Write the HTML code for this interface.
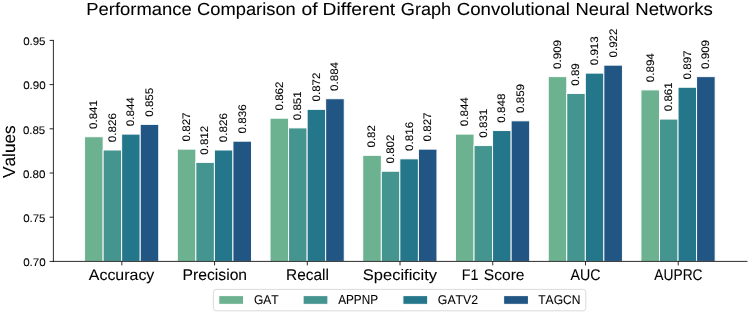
<!DOCTYPE html>
<html><head><meta charset="utf-8"><style>
html,body{margin:0;padding:0;background:#fff;width:750px;height:315px;overflow:hidden}
svg{display:block;will-change:transform}
text{stroke:#000;stroke-width:0.08px;font-family:"Liberation Sans",sans-serif;fill:#000;font-kerning:none;text-rendering:geometricPrecision}
</style></head><body>
<svg width="750" height="315" viewBox="0 0 750 315">
<rect width="750" height="315" fill="#fff"/>
<rect x="84.578" y="136.756" width="18.546" height="124.644" fill="#6db290" stroke="#fff" stroke-width="0.95"/>
<rect x="177.308" y="149.132" width="18.546" height="112.268" fill="#6db290" stroke="#fff" stroke-width="0.95"/>
<rect x="270.038" y="118.192" width="18.546" height="143.208" fill="#6db290" stroke="#fff" stroke-width="0.95"/>
<rect x="362.768" y="155.320" width="18.546" height="106.080" fill="#6db290" stroke="#fff" stroke-width="0.95"/>
<rect x="455.498" y="134.104" width="18.546" height="127.296" fill="#6db290" stroke="#fff" stroke-width="0.95"/>
<rect x="548.228" y="76.644" width="18.546" height="184.756" fill="#6db290" stroke="#fff" stroke-width="0.95"/>
<rect x="640.958" y="89.904" width="18.546" height="171.496" fill="#6db290" stroke="#fff" stroke-width="0.95"/>
<rect x="103.124" y="150.016" width="18.546" height="111.384" fill="#44948f" stroke="#fff" stroke-width="0.95"/>
<rect x="195.854" y="162.392" width="18.546" height="99.008" fill="#44948f" stroke="#fff" stroke-width="0.95"/>
<rect x="288.584" y="127.916" width="18.546" height="133.484" fill="#44948f" stroke="#fff" stroke-width="0.95"/>
<rect x="381.314" y="171.232" width="18.546" height="90.168" fill="#44948f" stroke="#fff" stroke-width="0.95"/>
<rect x="474.044" y="145.596" width="18.546" height="115.804" fill="#44948f" stroke="#fff" stroke-width="0.95"/>
<rect x="566.774" y="93.440" width="18.546" height="167.960" fill="#44948f" stroke="#fff" stroke-width="0.95"/>
<rect x="659.504" y="119.076" width="18.546" height="142.324" fill="#44948f" stroke="#fff" stroke-width="0.95"/>
<rect x="121.670" y="134.104" width="18.546" height="127.296" fill="#24768b" stroke="#fff" stroke-width="0.95"/>
<rect x="214.400" y="150.016" width="18.546" height="111.384" fill="#24768b" stroke="#fff" stroke-width="0.95"/>
<rect x="307.130" y="109.352" width="18.546" height="152.048" fill="#24768b" stroke="#fff" stroke-width="0.95"/>
<rect x="399.860" y="158.856" width="18.546" height="102.544" fill="#24768b" stroke="#fff" stroke-width="0.95"/>
<rect x="492.590" y="130.568" width="18.546" height="130.832" fill="#24768b" stroke="#fff" stroke-width="0.95"/>
<rect x="585.320" y="73.108" width="18.546" height="188.292" fill="#24768b" stroke="#fff" stroke-width="0.95"/>
<rect x="678.050" y="87.252" width="18.546" height="174.148" fill="#24768b" stroke="#fff" stroke-width="0.95"/>
<rect x="140.216" y="124.380" width="18.546" height="137.020" fill="#215584" stroke="#fff" stroke-width="0.95"/>
<rect x="232.946" y="141.176" width="18.546" height="120.224" fill="#215584" stroke="#fff" stroke-width="0.95"/>
<rect x="325.676" y="98.744" width="18.546" height="162.656" fill="#215584" stroke="#fff" stroke-width="0.95"/>
<rect x="418.406" y="149.132" width="18.546" height="112.268" fill="#215584" stroke="#fff" stroke-width="0.95"/>
<rect x="511.136" y="120.844" width="18.546" height="140.556" fill="#215584" stroke="#fff" stroke-width="0.95"/>
<rect x="603.866" y="65.152" width="18.546" height="196.248" fill="#215584" stroke="#fff" stroke-width="0.95"/>
<rect x="696.596" y="76.644" width="18.546" height="184.756" fill="#215584" stroke="#fff" stroke-width="0.95"/>
<path d="M53.40 40.40V261.40M53.40 261.40H747.00" stroke="#000" stroke-width="0.83" fill="none" stroke-linecap="square"/>
<path d="M49.55 261.40H53.40M49.55 217.20H53.40M49.55 173.00H53.40M49.55 128.80H53.40M49.55 84.60H53.40M49.55 40.40H53.40M121.84 261.40V265.40M214.57 261.40V265.40M307.30 261.40V265.40M400.03 261.40V265.40M492.76 261.40V265.40M585.49 261.40V265.40M678.22 261.40V265.40" stroke="#000" stroke-width="0.83" fill="none"/>
<text transform="translate(86.289,15.159) scale(1.0518,1)" font-size="17.515">Performance</text>
<text transform="translate(197.059,15.159) scale(1.0459,1)" font-size="17.515">Comparison</text>
<text transform="translate(301.386,15.159) scale(1.1035,1)" font-size="17.515">of</text>
<text transform="translate(322.516,15.159) scale(1.0991,1)" font-size="17.515">Different</text>
<text transform="translate(400.795,15.159) scale(1.0366,1)" font-size="17.515">Graph</text>
<text transform="translate(456.718,15.159) scale(1.0666,1)" font-size="17.515">Convolutional</text>
<text transform="translate(575.591,15.159) scale(1.0484,1)" font-size="17.515">Neural</text>
<text transform="translate(635.358,15.159) scale(1.0603,1)" font-size="17.515">Networks</text>
<text transform="translate(15.130,178.026) rotate(-90) scale(0.9907,1)" font-size="17.430">Values</text>
<text transform="translate(97.043,128.949) rotate(-90) scale(1.0499,1)" font-size="10.946">0.841</text>
<text transform="translate(189.793,141.453) rotate(-90) scale(1.0600,1)" font-size="10.946">0.827</text>
<text transform="translate(282.543,110.449) rotate(-90) scale(1.0506,1)" font-size="10.946">0.862</text>
<text transform="translate(375.293,147.447) rotate(-90) scale(1.0454,1)" font-size="10.946">0.82</text>
<text transform="translate(468.043,126.203) rotate(-90) scale(1.0603,1)" font-size="10.946">0.844</text>
<text transform="translate(560.793,68.953) rotate(-90) scale(1.0588,1)" font-size="10.946">0.909</text>
<text transform="translate(653.543,82.203) rotate(-90) scale(1.0603,1)" font-size="10.946">0.894</text>
<text transform="translate(115.543,142.206) rotate(-90) scale(1.0667,1)" font-size="10.946">0.826</text>
<text transform="translate(208.293,154.699) rotate(-90) scale(1.0506,1)" font-size="10.946">0.812</text>
<text transform="translate(301.043,120.199) rotate(-90) scale(1.0499,1)" font-size="10.946">0.851</text>
<text transform="translate(393.793,163.449) rotate(-90) scale(1.0506,1)" font-size="10.946">0.802</text>
<text transform="translate(486.543,137.703) rotate(-90) scale(1.0594,1)" font-size="10.946">0.831</text>
<text transform="translate(579.293,85.702) rotate(-90) scale(1.0561,1)" font-size="10.946">0.89</text>
<text transform="translate(672.043,111.199) rotate(-90) scale(1.0499,1)" font-size="10.946">0.861</text>
<text transform="translate(134.293,126.203) rotate(-90) scale(1.0603,1)" font-size="10.946">0.844</text>
<text transform="translate(227.043,142.206) rotate(-90) scale(1.0667,1)" font-size="10.946">0.826</text>
<text transform="translate(319.793,101.449) rotate(-90) scale(1.0506,1)" font-size="10.946">0.872</text>
<text transform="translate(412.543,150.956) rotate(-90) scale(1.0667,1)" font-size="10.946">0.816</text>
<text transform="translate(505.293,122.706) rotate(-90) scale(1.0665,1)" font-size="10.946">0.848</text>
<text transform="translate(598.043,65.202) rotate(-90) scale(1.0573,1)" font-size="10.946">0.913</text>
<text transform="translate(690.793,79.453) rotate(-90) scale(1.0600,1)" font-size="10.946">0.897</text>
<text transform="translate(152.793,116.702) rotate(-90) scale(1.0564,1)" font-size="10.946">0.855</text>
<text transform="translate(245.543,133.456) rotate(-90) scale(1.0667,1)" font-size="10.946">0.836</text>
<text transform="translate(338.293,90.953) rotate(-90) scale(1.0603,1)" font-size="10.946">0.884</text>
<text transform="translate(431.043,141.453) rotate(-90) scale(1.0600,1)" font-size="10.946">0.827</text>
<text transform="translate(523.793,112.953) rotate(-90) scale(1.0588,1)" font-size="10.946">0.859</text>
<text transform="translate(616.543,57.449) rotate(-90) scale(1.0506,1)" font-size="10.946">0.922</text>
<text transform="translate(709.293,68.953) rotate(-90) scale(1.0588,1)" font-size="10.946">0.909</text>
<text transform="translate(88.799,279.814) scale(1.0383,1)" font-size="15.354">Accuracy</text>
<text transform="translate(182.542,280.097) scale(1.0024,1)" font-size="15.660">Precision</text>
<text transform="translate(286.067,280.097) scale(0.9834,1)" font-size="15.660">Recall</text>
<text transform="translate(362.831,279.828) scale(1.0794,1)" font-size="15.288">Specificity</text>
<text transform="translate(461.656,280.028) scale(0.9300,1)" font-size="15.387">F1</text>
<text transform="translate(483.863,280.028) scale(1.0115,1)" font-size="15.387">Score</text>
<text transform="translate(570.552,280.098) scale(0.9167,1)" font-size="15.537">AUC</text>
<text transform="translate(654.303,280.098) scale(0.8881,1)" font-size="15.537">AUPRC</text>
<text transform="translate(23.146,266.093) scale(1.0612,1)" font-size="10.946">0.70</text>
<text transform="translate(23.151,221.843) scale(1.0506,1)" font-size="10.946">0.75</text>
<text transform="translate(22.896,177.593) scale(1.0612,1)" font-size="10.946">0.80</text>
<text transform="translate(22.901,133.593) scale(1.0506,1)" font-size="10.946">0.85</text>
<text transform="translate(23.146,89.343) scale(1.0612,1)" font-size="10.946">0.90</text>
<text transform="translate(23.151,45.093) scale(1.0506,1)" font-size="10.946">0.95</text>
<rect x="213.4" y="289.4" width="372.4" height="21.4" rx="2.6" fill="#fff" stroke="#d9d9d9" stroke-width="0.95"/>
<rect x="218.75" y="295.60" width="24.82" height="8.75" fill="#6db290" stroke="#fff" stroke-width="1.04"/>
<rect x="303.09" y="295.60" width="24.82" height="8.75" fill="#44948f" stroke="#fff" stroke-width="1.04"/>
<rect x="402.89" y="295.60" width="24.82" height="8.75" fill="#24768b" stroke="#fff" stroke-width="1.04"/>
<rect x="503.62" y="295.60" width="24.82" height="8.75" fill="#215584" stroke="#fff" stroke-width="1.04"/>
<text transform="translate(253.919,304.126) scale(0.9457,1)" font-size="12.712">GAT</text>
<text transform="translate(338.161,304.250) scale(0.8989,1)" font-size="13.082">APPNP</text>
<text transform="translate(437.861,304.126) scale(0.9647,1)" font-size="12.712">GATV2</text>
<text transform="translate(538.251,304.126) scale(0.9489,1)" font-size="12.712">TAGCN</text>
</svg>
</body></html>
